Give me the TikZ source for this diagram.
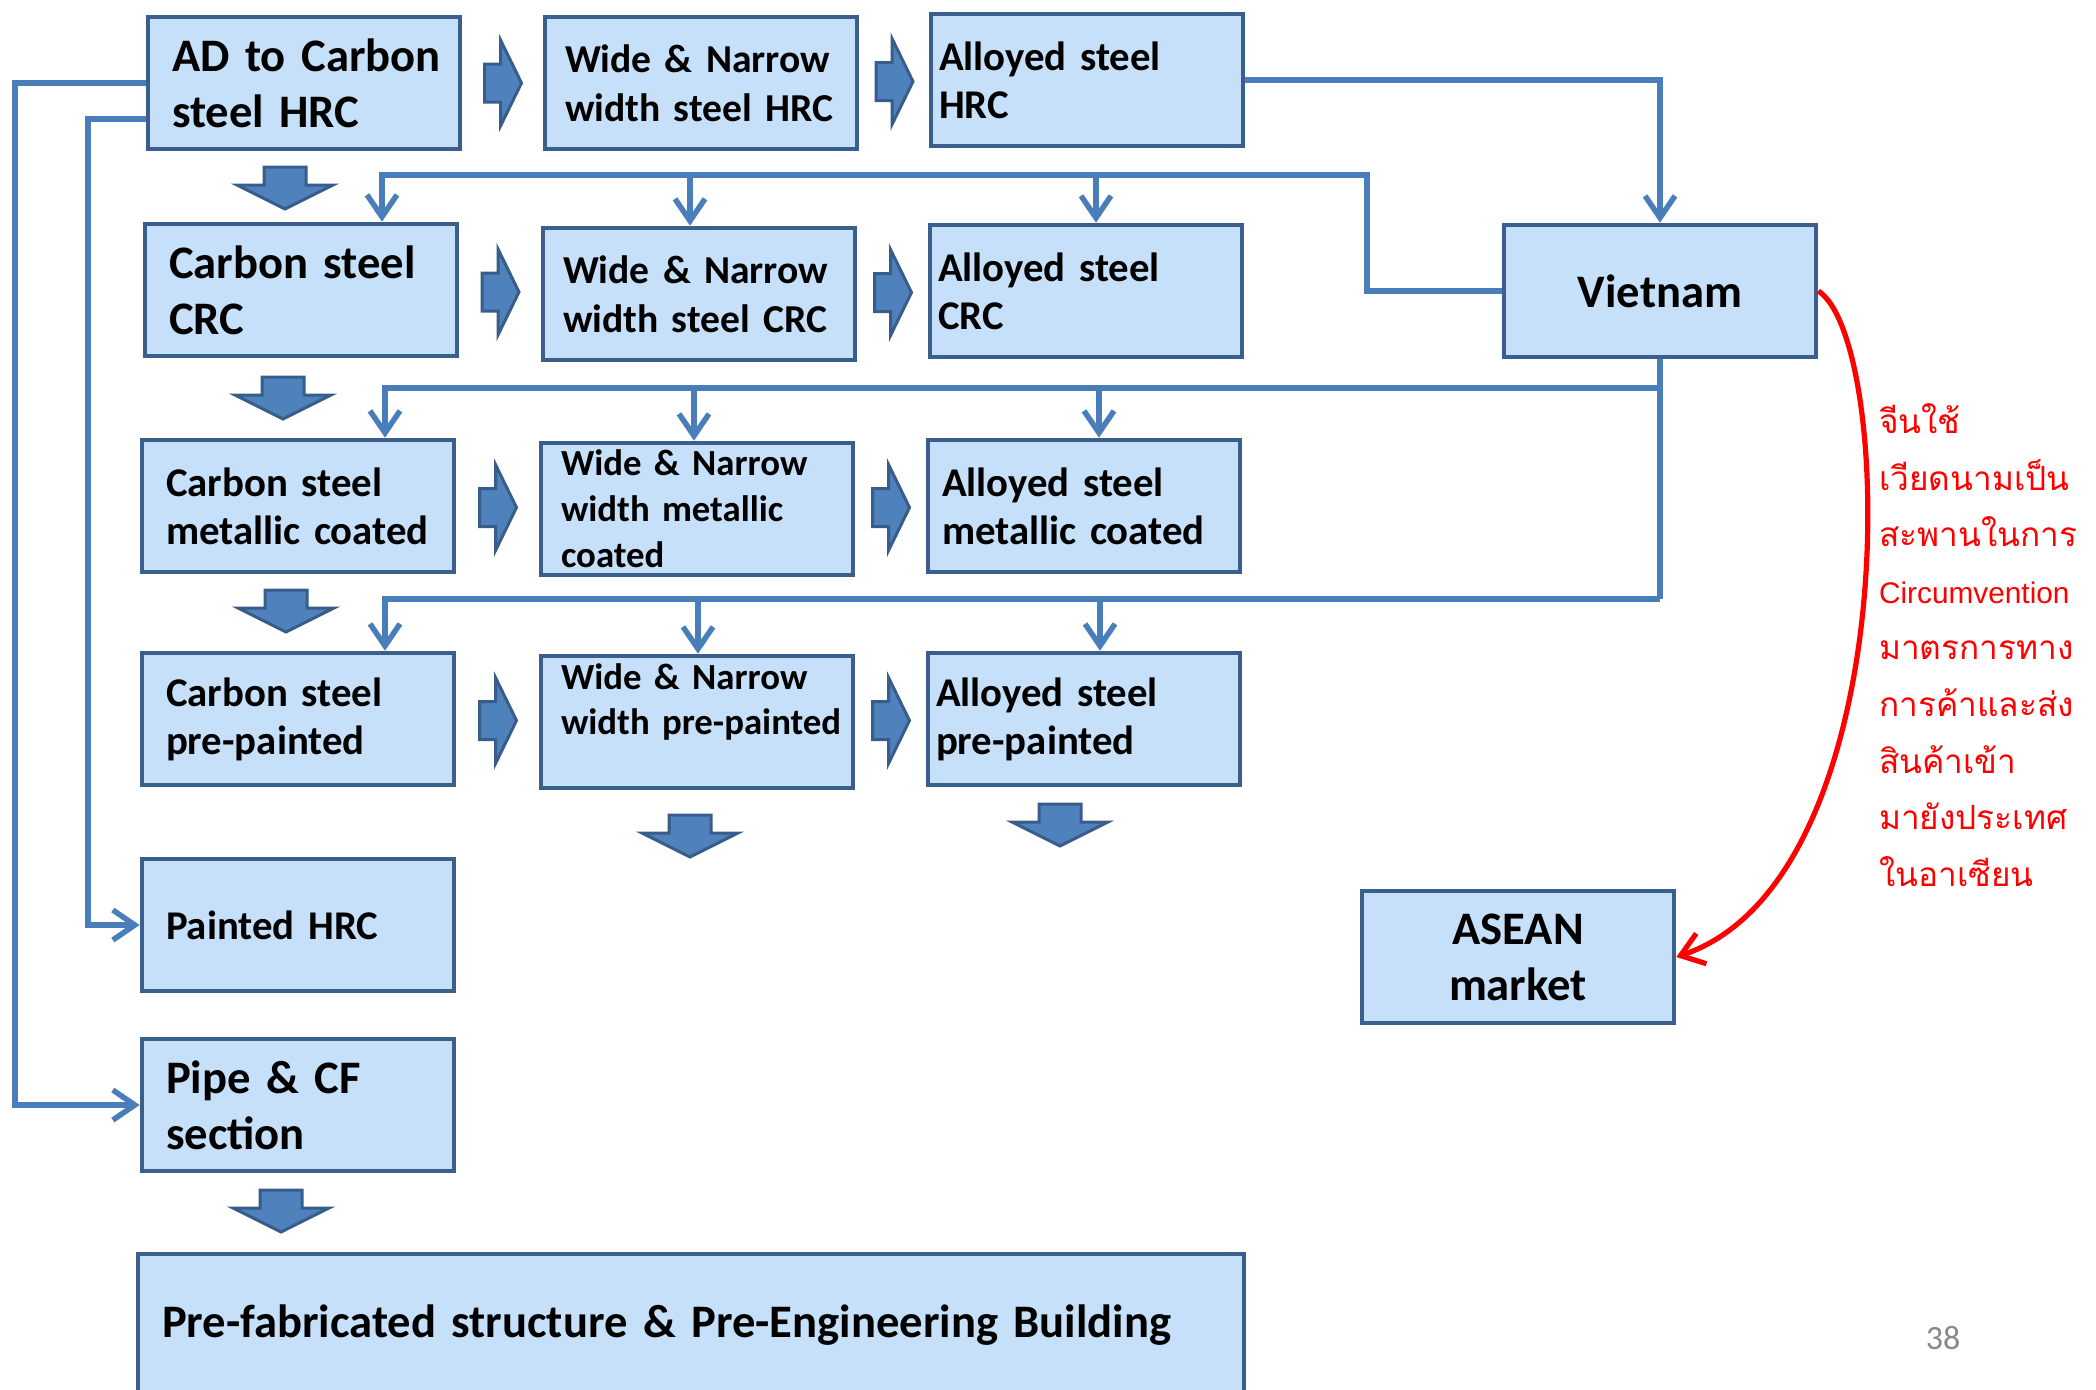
\documentclass[tikz,border=0pt]{standalone}
\usepackage{fontspec}
\setmainfont{Carlito}
\newfontfamily\thaifont[Script=Thai]{Loma}
\newfontfamily\arialfont{Liberation Sans}
\usepackage{tikz}
\usetikzlibrary{arrows.meta,calc}
\hyphenpenalty=10000
\exhyphenpenalty=10000

\definecolor{boxfill}{RGB}{198,224,249}
\definecolor{boxline}{RGB}{59,95,140}
\definecolor{linkblue}{RGB}{74,126,187}
\definecolor{arrfill}{RGB}{79,129,189}
\definecolor{arrline}{RGB}{56,93,138}
\definecolor{pagenum}{RGB}{137,137,137}

\begin{document}
\begin{tikzpicture}[
    x=0.5pt, y=-0.5pt,
    bigtxt/.style={font=\bfseries\fontsize{23.3}{28}\selectfont},
    midtxt/.style={font=\bfseries\fontsize{20.4}{24}\selectfont},
    wntxt/.style={font=\bfseries\fontsize{19.8}{24.4}\selectfont},
    smalltxt/.style={font=\bfseries\fontsize{18.4}{22.9}\selectfont},
    box/.style={draw=boxline, fill=boxfill, line width=2.3pt, minimum width=156pt, minimum height=66pt, inner ysep=0pt},
    cbox/.style={box, align=left, inner xsep=12pt, text width=132pt},
    wbox/.style={box, align=left, inner xsep=10pt, text width=136pt},
    abox/.style={box, align=left, inner xsep=4pt, text width=148pt},
    link/.style={draw=linkblue, line width=2.75pt},
    tip/.style={-{Straight Barb[length=11pt,width=15pt]}},
    redlink/.style={draw=red, line width=2.6pt, -{Straight Barb[length=11pt,width=16pt]}},
    blockarr/.style={draw=arrline, fill=arrfill, line width=1.5pt},
    rblock/.pic={\path[blockarr] (-18,-19) -- (-2,-19) -- (-2,-43) -- (19,0) -- (-2,43) -- (-2,19) -- (-18,19) -- cycle;},
    dblock/.pic={\path[blockarr] (-21,-21) -- (21,-21) -- (21,-3) -- (48,-3) -- (0,21) -- (-48,-3) -- (-21,-3) -- cycle;}
]
\useasboundingbox (0,0) rectangle (2096,1389);

% product boxes
\node[cbox, bigtxt] (adhrc) at (304,83) {AD~to~Carbon\\steel~HRC};
\node[wbox, wntxt] (wnhrc) at (701,83) {Wide~\&~Narrow\\width~steel~HRC};
\node[abox, midtxt] (ashrc) at (1087,80) {Alloyed~steel\\HRC};
\node[cbox, bigtxt] (cscrc) at (301,290) {Carbon~steel\\CRC};
\node[wbox, wntxt] (wncrc) at (699,294) {Wide~\&~Narrow\\width~steel~CRC};
\node[abox, midtxt] (ascrc) at (1086,291) {Alloyed~steel\\CRC};
\node[cbox, midtxt] (csmet) at (298,506) {Carbon~steel\\metallic~coated};
\node[wbox, smalltxt] (wnmet) at (697,509) {Wide~\&~Narrow\\width~metallic\\coated};
\node[abox, midtxt, inner xsep=7pt, text width=142pt] (asmet) at (1084,506) {Alloyed~steel\\metallic~coated};
\node[cbox, midtxt] (cspp) at (298,719) {Carbon~steel\\pre-painted};
\node[wbox, smalltxt] (wnpp) at (697,722) {Wide~\&~Narrow\\width~pre-painted\\\mbox{}};
\node[abox, midtxt] (aspp) at (1084,719) {Alloyed~steel\\pre-painted};
\node[cbox, midtxt] (painted) at (298,925) {Painted~HRC};
\node[cbox, bigtxt] (pipe) at (298,1105) {Pipe~\&~CF\\section};
\node[box, bigtxt, align=left, minimum width=553pt, minimum height=71pt, inner xsep=12pt, text width=529pt] (prefab) at (691,1325) {Pre-fabricated structure \& Pre-Engineering Building};

% countries
\node[box, bigtxt, align=center] (viet) at (1660,291) {Vietnam};
\node[box, bigtxt, align=center] (asean) at (1518,957) {ASEAN\\market};

% block arrows
\pic at ($(adhrc.east)!0.5!(wnhrc.west)$) {rblock};
\pic at ($(wnhrc.east)!0.5!(ashrc.west)$) {rblock};
\pic at ($(cscrc.east)!0.5!(wncrc.west)$) {rblock};
\pic at ($(wncrc.east)!0.5!(ascrc.west)$) {rblock};
\pic at ($(csmet.east)!0.5!(wnmet.west)$) {rblock};
\pic at ($(wnmet.east)!0.5!(asmet.west)$) {rblock};
\pic at ($(cspp.east)!0.5!(wnpp.west)$) {rblock};
\pic at ($(wnpp.east)!0.5!(aspp.west)$) {rblock};
\pic at (285,188) {dblock};
\pic at (283,398) {dblock};
\pic at (286,611) {dblock};
\pic at (690,836) {dblock};
\pic at (1060,825) {dblock};
\pic at (281,1211) {dblock};

% HRC lines on the left
\draw[link, tip] (adhrc.west) -- (15,83) |- (pipe.west);
\draw[link, tip] (adhrc.west |- 0,119) -- (88,119) |- (painted.west);

% Vietnam lines
\draw[link, tip] (ashrc.east) -| (viet.north);
\draw[link, tip] (viet.west) -| (1367,175) -- (382,175) -- (cscrc.north -| 382,0);
\draw[link, tip] (690,175) -- (wncrc.north -| 690,0);
\draw[link, tip] (1096,175) -- (ascrc.north -| 1096,0);
\draw[link] (viet.south) -- (viet.south |- 0,599);
\draw[link, tip] (viet.south |- 0,388) -- (385,388) -- (csmet.north -| 385,0);
\draw[link, tip] (694,388) -- (wnmet.north -| 694,0);
\draw[link, tip] (1099,388) -- (asmet.north -| 1099,0);
\draw[link, tip] (viet.south |- 0,599) -- (385,599) -- (cspp.north -| 385,0);
\draw[link, tip] (698,599) -- (wnpp.north -| 698,0);
\draw[link, tip] (1100,599) -- (aspp.north -| 1100,0);

% circumvention
\draw[redlink] (viet.east) .. controls (1895,340) and (1905,880) .. (asean.east);
\node[anchor=west, align=left, text=red, font=\thaifont\fontsize{16.7}{28.3}\selectfont] (note) at (1872,645)
  {จีนใช้\\เวียดนามเป็น\\สะพานในการ\\{\arialfont\fontsize{14.9}{28.3}\selectfont Circumvention}\\มาตรการทาง\\การค้าและส่ง\\สินค้าเข้า\\มายังประเทศ\\ในอาเซียน};

\node[text=pagenum, font=\fontsize{17}{20}\selectfont] (pnum) at (1943,1338) {38};
\end{tikzpicture}
\end{document}
